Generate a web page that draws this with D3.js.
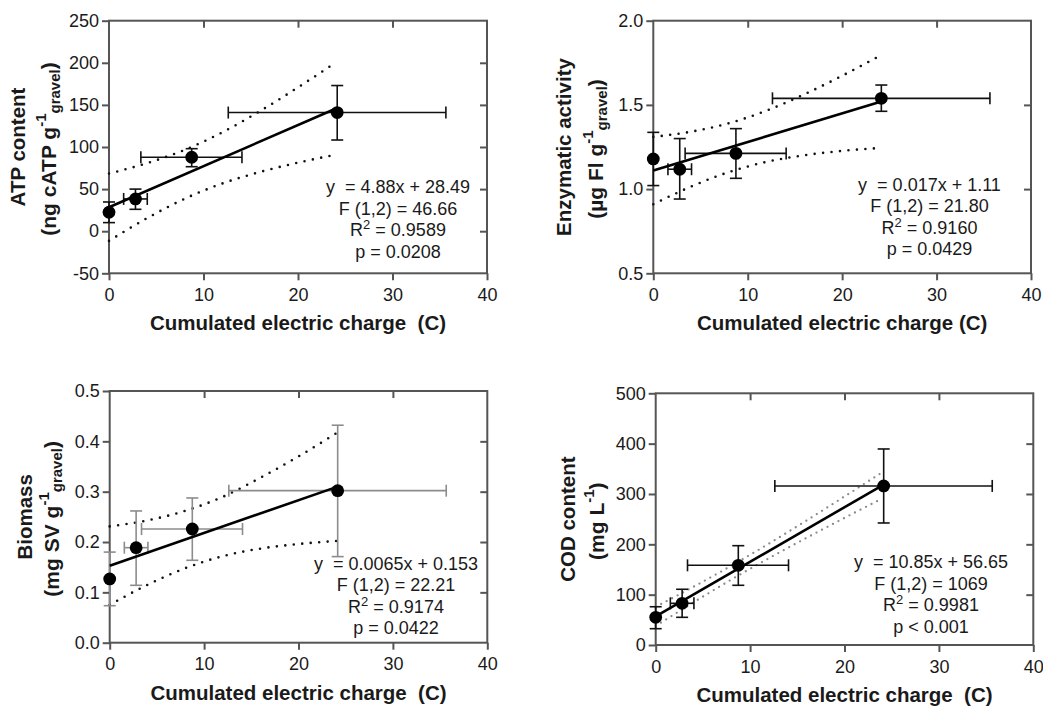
<!DOCTYPE html>
<html>
<head>
<meta charset="utf-8">
<script src="https://cdn.jsdelivr.net/npm/d3@7"></script>
<style>
  body { margin: 0; background: #fff; }
  svg { display: block; }
  text { font-family: "Liberation Sans", Arial, sans-serif; fill: #1a1a1a; }
</style>
</head>
<body>
<svg id="chart" width="1043" height="706"></svg>
<script>
(function() {
  'use strict';

// cumulated charge (C), same four sampling times in every panel
var chargeX = [0, 2.8, 8.75, 24.15];
var chargeLow = [0, 1.55, 3.37, 12.62];
var chargeHigh = [0, 4.05, 14.07, 35.65];
var xTicks = [0, 10, 20, 30, 40];

var bandX = [0, 4, 8, 12, 16, 20, 24];
var fitX = [0, 24.15];

// ATP content
var atpMean = [22.5, 38.3, 87.8, 140.9];
var atpLow = [10.2, 26, 76.6, 108.3];
var atpHigh = [34.7, 50, 98, 173];
var atpFit = [28.49, 146.3];
var atpBandUp = [68.5, 80.7, 96.5, 117.5, 142.8, 170.8, 200.3];
var atpBandDown = [-11.5, 15.3, 38.5, 56.7, 70.4, 81.4, 90.9];
var atpTicks = [-50, 0, 50, 100, 150, 200, 250];

// enzymatic activity
var enzMean = [1.179, 1.118, 1.212, 1.539];
var enzLow = [1.021, 0.941, 1.064, 1.462];
var enzHigh = [1.337, 1.30, 1.359, 1.618];
var enzFit = [1.11, 1.52];
var enzBandUp = [1.31, 1.341, 1.391, 1.466, 1.563, 1.673, 1.792];
var enzBandDown = [0.91, 1.015, 1.101, 1.162, 1.201, 1.227, 1.244];
var enzTicks = [0.5, 1.0, 1.5, 2.0];

// biomass
var bioMean = [0.1266, 0.1888, 0.2259, 0.302];
var bioLow = [0.0735, 0.114, 0.1637, 0.171];
var bioHigh = [0.180, 0.2617, 0.2875, 0.432];
var bioFit = [0.153, 0.310];
var bioBandUp = [0.231, 0.243, 0.262, 0.290, 0.328, 0.370, 0.416];
var bioBandDown = [0.075, 0.115, 0.148, 0.172, 0.187, 0.196, 0.202];
var bioTicks = [0.0, 0.1, 0.2, 0.3, 0.4, 0.5];

// COD content
var codMean = [55, 82.8, 158.3, 316];
var codLow = [32.4, 55, 118.6, 242.4];
var codHigh = [76, 110.7, 197.3, 389.4];
var codFit = [56.65, 318.7];
var codBandUp = [75.7, 115.6, 157.3, 201.4, 247.5, 295, 343];
var codBandDown = [37.7, 84.6, 129.7, 172.4, 213, 252.4, 291];
var codTicks = [0, 100, 200, 300, 400, 500];

var panels = [
  {
    mean: atpMean, low: atpLow, high: atpHigh, fit: atpFit, up: atpBandUp, down: atpBandDown,
    ticks: atpTicks, fmt: function(d) { return String(d); },
    label1: 'ATP content', label2: ['(ng cATP g', '-1', 'gravel', ')'],
    xlabel: 'Cumulated electric charge  (C)',
    stats: ['y  = 4.88x + 28.49', 'F (1,2) = 46.66', '0.9589', 'p = 0.0208'],
    box: { left: 109, right: 487, top: 20.7, bottom: 273.3 },
    statsX: 398, statsY: 193, lab1: 84, lab2: 53,
    barColor: '#111', bandColor: '#111', dot: 8.5, dotW: 2.6
  },
  {
    mean: enzMean, low: enzLow, high: enzHigh, fit: enzFit, up: enzBandUp, down: enzBandDown,
    ticks: enzTicks, fmt: d3.format('.1f'),
    label1: 'Enzymatic activity', label2: ['(\u00b5g Fl g', '-1', 'gravel', ')'],
    xlabel: 'Cumulated electric charge (C)',
    stats: ['y  = 0.017x + 1.11', 'F (1,2) = 21.80', '0.9160', 'p = 0.0429'],
    box: { left: 653.3, right: 1031, top: 20.7, bottom: 273.3 },
    statsX: 929.5, statsY: 190.5, lab1: 82, lab2: 50,
    barColor: '#111', bandColor: '#111', dot: 8.5, dotW: 2.6
  },
  {
    mean: bioMean, low: bioLow, high: bioHigh, fit: bioFit, up: bioBandUp, down: bioBandDown,
    ticks: bioTicks, fmt: d3.format('.1f'),
    label1: 'Biomass', label2: ['(mg SV g', '-1', 'gravel', ')'],
    xlabel: 'Cumulated electric charge  (C)',
    stats: ['y  = 0.0065x + 0.153', 'F (1,2) = 22.21', '0.9174', 'p = 0.0422'],
    box: { left: 109.7, right: 487.3, top: 391, bottom: 642.7 },
    statsX: 396, statsY: 569.5, lab1: 78, lab2: 51,
    barColor: '#8c8c8c', bandColor: '#111', dot: 8.5, dotW: 2.6
  },
  {
    mean: codMean, low: codLow, high: codHigh, fit: codFit, up: codBandUp, down: codBandDown,
    ticks: codTicks, fmt: function(d) { return String(d); },
    label1: 'COD content', label2: ['(mg L', '-1', '', ')'],
    xlabel: 'Cumulated electric charge  (C)',
    stats: ['y  = 10.85x + 56.65', 'F (1,2) = 1069', '0.9981', 'p < 0.001'],
    box: { left: 655.7, right: 1033.3, top: 393.3, bottom: 645 },
    statsX: 931, statsY: 568, lab1: 81, lab2: 52,
    barColor: '#111', bandColor: '#8a8a8a', dot: 6.2, dotW: 2.3
  }
];

var svg = d3.select('#chart');
var frameColor = '#555';
var cap = 6;

panels.forEach(drawPanel);

function drawPanel(p) {
  var b = p.box;
  var g = svg.append('g');
  var x = d3.scaleLinear().domain([0, 40]).range([b.left, b.right]);
  var y = d3.scaleLinear().domain([p.ticks[0], p.ticks[p.ticks.length - 1]]).range([b.bottom, b.top]);

  // axes
  var left = g.append('g')
    .attr('transform', 'translate(' + b.left + ',0)')
    .call(d3.axisLeft(y).tickValues(p.ticks).tickFormat(p.fmt).tickSize(7).tickPadding(3).tickSizeOuter(0));
  var bottom = g.append('g')
    .attr('transform', 'translate(0,' + b.bottom + ')')
    .call(d3.axisBottom(x).tickValues(xTicks).tickSize(7).tickPadding(8).tickSizeOuter(0));
  var top = g.append('g')
    .attr('transform', 'translate(0,' + b.top + ')')
    .call(d3.axisTop(x).tickValues(xTicks.slice(1, -1)).tickSize(-7).tickFormat('').tickSizeOuter(0));
  var right = g.append('g')
    .attr('transform', 'translate(' + b.right + ',0)')
    .call(d3.axisRight(y).tickValues(p.ticks.slice(1, -1)).tickSize(-7).tickFormat('').tickSizeOuter(0));

  [left, bottom, top, right].forEach(function(a) {
    a.attr('font-family', null).attr('font-size', 18);
    a.select('.domain').remove();
    a.selectAll('line').attr('stroke', frameColor).attr('stroke-width', 2);
    a.selectAll('text').attr('fill', '#1a1a1a');
  });

  g.append('rect')
    .attr('x', b.left).attr('y', b.top)
    .attr('width', b.right - b.left).attr('height', b.bottom - b.top)
    .attr('fill', 'none').attr('stroke', frameColor).attr('stroke-width', 2);

  // 95% confidence bands
  var band = d3.line()
    .x(function(d, i) { return x(bandX[i]); })
    .y(function(d) { return y(d); })
    .curve(d3.curveMonotoneX);
  [p.up, p.down].forEach(function(vals) {
    g.append('path')
      .attr('d', band(vals))
      .attr('fill', 'none')
      .attr('stroke', p.bandColor)
      .attr('stroke-width', p.dotW)
      .attr('stroke-linecap', 'round')
      .attr('stroke-dasharray', '0 ' + p.dot);
  });

  // error bars
  var bars = g.append('g').attr('stroke', p.barColor).attr('stroke-width', 1.6).attr('fill', 'none');
  p.mean.forEach(function(m, i) {
    var cx = x(chargeX[i]);
    var cy = y(m);
    bars.append('line').attr('x1', cx).attr('x2', cx).attr('y1', y(p.low[i])).attr('y2', y(p.high[i]));
    bars.append('line').attr('x1', cx - cap).attr('x2', cx + cap).attr('y1', y(p.low[i])).attr('y2', y(p.low[i]));
    bars.append('line').attr('x1', cx - cap).attr('x2', cx + cap).attr('y1', y(p.high[i])).attr('y2', y(p.high[i]));
    if (chargeHigh[i] > chargeLow[i]) {
      var x0 = x(chargeLow[i]), x1 = x(chargeHigh[i]);
      bars.append('line').attr('x1', x0).attr('x2', x1).attr('y1', cy).attr('y2', cy);
      bars.append('line').attr('x1', x0).attr('x2', x0).attr('y1', cy - cap).attr('y2', cy + cap);
      bars.append('line').attr('x1', x1).attr('x2', x1).attr('y1', cy - cap).attr('y2', cy + cap);
    }
  });

  // regression line
  g.append('path')
    .attr('d', d3.line().x(function(d, i) { return x(fitX[i]); }).y(function(d) { return y(d); })(p.fit))
    .attr('fill', 'none')
    .attr('stroke', '#000')
    .attr('stroke-width', 2.6);

  // means
  g.selectAll('circle')
    .data(p.mean)
    .enter().append('circle')
      .attr('cx', function(d, i) { return x(chargeX[i]); })
      .attr('cy', function(d) { return y(d); })
      .attr('r', 6.4)
      .attr('fill', '#000');

  // statistics
  var st = g.append('g').attr('font-size', 18).attr('text-anchor', 'middle');
  var step = 21.5;
  st.append('text').attr('x', p.statsX).attr('y', p.statsY).style('white-space', 'pre').text(p.stats[0]);
  st.append('text').attr('x', p.statsX).attr('y', p.statsY + step).text(p.stats[1]);
  var r2 = st.append('text').attr('x', p.statsX).attr('y', p.statsY + step * 2);
  r2.append('tspan').text('R');
  r2.append('tspan').attr('dy', -7).attr('font-size', 13).text('2');
  r2.append('tspan').attr('dy', 7).text(' = ' + p.stats[2]);
  st.append('text').attr('x', p.statsX).attr('y', p.statsY + step * 3).text(p.stats[3]);

  // axis titles
  g.append('text')
    .attr('x', (b.left + b.right) / 2)
    .attr('y', b.bottom + 57)
    .attr('text-anchor', 'middle')
    .attr('font-size', 20.5)
    .attr('font-weight', 'bold')
    .style('white-space', 'pre')
    .text(p.xlabel);

  var cy0 = (b.top + b.bottom) / 2;
  g.append('text')
    .attr('transform', 'translate(' + (b.left - p.lab1) + ',' + cy0 + ') rotate(-90)')
    .attr('text-anchor', 'middle')
    .attr('font-size', 20.5)
    .attr('font-weight', 'bold')
    .text(p.label1);

  var t2 = g.append('text')
    .attr('transform', 'translate(' + (b.left - p.lab2) + ',' + (cy0 + 2) + ') rotate(-90)')
    .attr('text-anchor', 'middle')
    .attr('font-size', 21)
    .attr('font-weight', 'bold');
  t2.append('tspan').text(p.label2[0]);
  t2.append('tspan').attr('dy', -10).attr('font-size', 15).text(p.label2[1]);
  if (p.label2[2]) {
    t2.append('tspan').attr('dy', 13.5).attr('font-size', 15).text(p.label2[2]);
    t2.append('tspan').attr('dy', -3.5).text(p.label2[3]);
  } else {
    t2.append('tspan').attr('dy', 10).text(p.label2[3]);
  }
}
}());
</script>
</body>
</html>
